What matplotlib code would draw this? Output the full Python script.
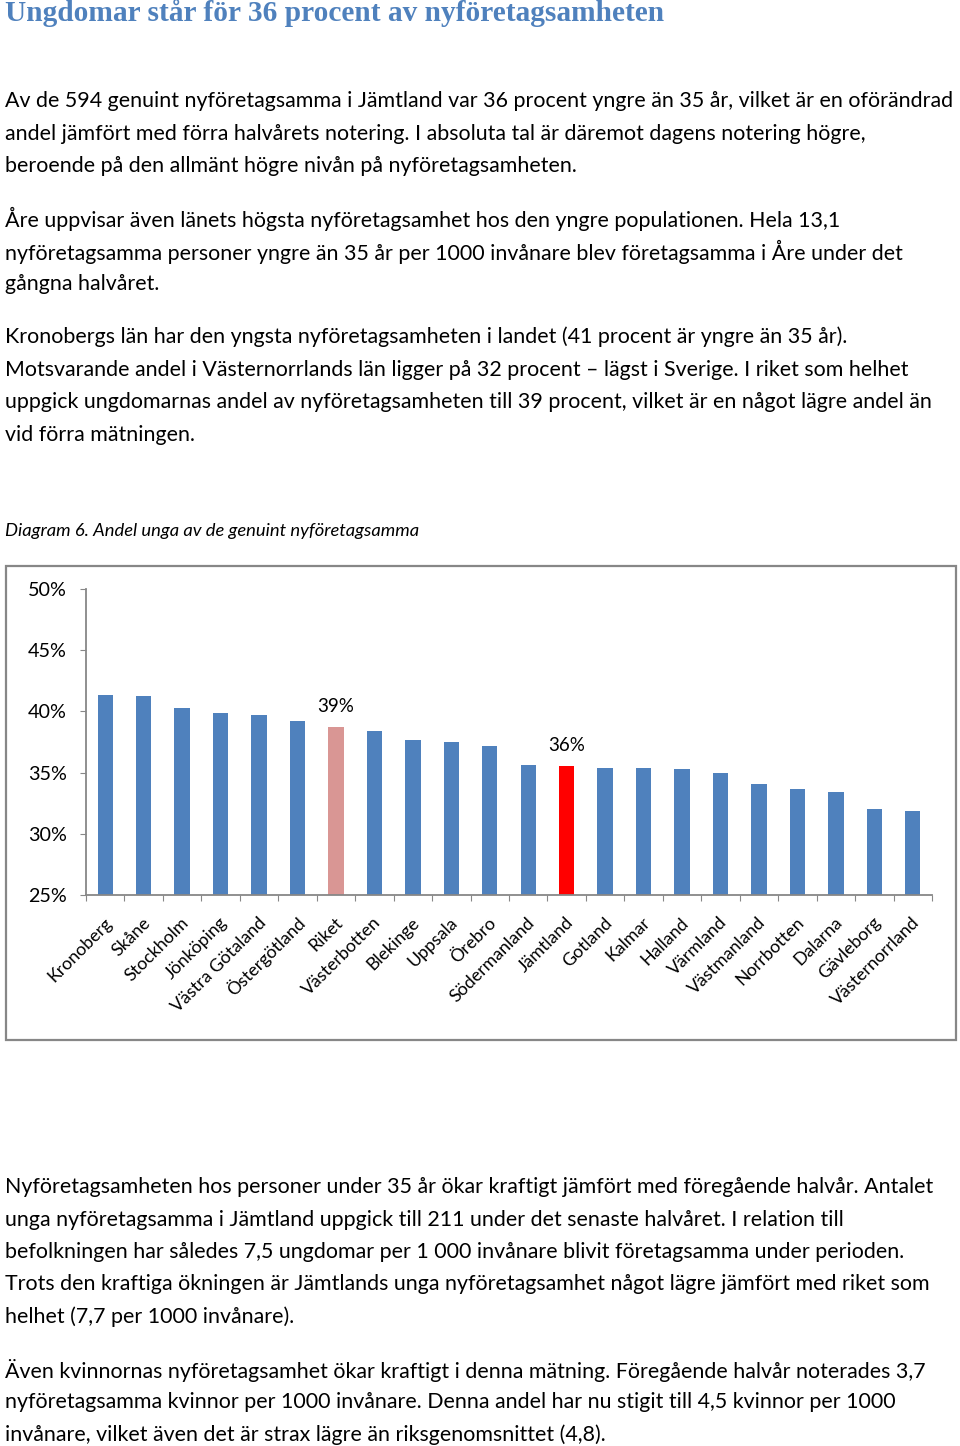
import matplotlib
matplotlib.use("Agg")
import matplotlib.pyplot as plt
from matplotlib.patches import Rectangle

W, H = 960, 1446

title = "Ungdomar står för 36 procent av nyföretagsamheten"

para1 = [
    "Av de 594 genuint nyföretagsamma i Jämtland var 36 procent yngre än 35 år, vilket är en oförändrad",
    "andel jämfört med förra halvårets notering. I absoluta tal är däremot dagens notering högre,",
    "beroende på den allmänt högre nivån på nyföretagsamheten.",
]
para2 = [
    "Åre uppvisar även länets högsta nyföretagsamhet hos den yngre populationen. Hela 13,1",
    "nyföretagsamma personer yngre än 35 år per 1000 invånare blev företagsamma i Åre under det",
    "gångna halvåret.",
]
para3 = [
    "Kronobergs län har den yngsta nyföretagsamheten i landet (41 procent är yngre än 35 år).",
    "Motsvarande andel i Västernorrlands län ligger på 32 procent – lägst i Sverige. I riket som helhet",
    "uppgick ungdomarnas andel av nyföretagsamheten till 39 procent, vilket är en något lägre andel än",
    "vid förra mätningen.",
]
caption = "Diagram 6. Andel unga av de genuint nyföretagsamma"
para4 = [
    "Nyföretagsamheten hos personer under 35 år ökar kraftigt jämfört med föregående halvår. Antalet",
    "unga nyföretagsamma i Jämtland uppgick till 211 under det senaste halvåret. I relation till",
    "befolkningen har således 7,5 ungdomar per 1 000 invånare blivit företagsamma under perioden.",
    "Trots den kraftiga ökningen är Jämtlands unga nyföretagsamhet något lägre jämfört med riket som",
    "helhet (7,7 per 1000 invånare).",
]
para5 = [
    "Även kvinnornas nyföretagsamhet ökar kraftigt i denna mätning. Föregående halvår noterades 3,7",
    "nyföretagsamma kvinnor per 1000 invånare. Denna andel har nu stigit till 4,5 kvinnor per 1000",
    "invånare, vilket även det är strax lägre än riksgenomsnittet (4,8).",
]

categories = ["Kronoberg", "Skåne", "Stockholm", "Jönköping", "Västra Götaland",
              "Östergötland", "Riket", "Västerbotten", "Blekinge", "Uppsala", "Örebro",
              "Södermanland", "Jämtland", "Gotland", "Kalmar", "Halland", "Värmland",
              "Västmanland", "Norrbotten", "Dalarna", "Gävleborg", "Västernorrland"]
values = [41.3, 41.25, 40.3, 39.9, 39.7, 39.2, 38.7, 38.4, 37.7, 37.5, 37.2,
          35.6, 35.5, 35.4, 35.4, 35.3, 35.0, 34.1, 33.7, 33.4, 32.0, 31.9]
labelled = {"Riket": "39%", "Jämtland": "36%"}
yticks = [25, 30, 35, 40, 45, 50]

BLUE = "#4F81BD"
colors = []
for c in categories:
    if c == "Riket":
        colors.append("#D99694")
    elif c == "Jämtland":
        colors.append("#FF0000")
    else:
        colors.append(BLUE)

fig = plt.figure(figsize=(W / 100, H / 100), dpi=100)

BODY = "Lato"
BODY_FS = 15.4


def ptext(x, y, s, **kw):
    fig.text(x / W, 1 - y / H, s, va="center", ha="left", **kw)


ptext(5, 13, title, fontsize=21.2, fontweight="bold", family="Liberation Serif", color="#4F81BD")

def para(lines, y0, step=32.5):
    for i, l in enumerate(lines):
        ptext(5, y0 + i * step, l, fontsize=BODY_FS, family=BODY, color="black")

para(para1, 101)
para(para2, 219)
para(para3, 337)
ptext(5, 531, caption, fontsize=13.2, family=BODY, style="italic", color="black")
para(para4, 1187)
para(para5, 1370)

# chart border
fig.patches.append(Rectangle((6 / W, 1 - 1040 / H), 950 / W, 474 / H, transform=fig.transFigure,
                             fill=False, edgecolor="#878787", linewidth=1.6))

ax = fig.add_axes([86 / W, 1 - 895 / H, (932 - 86) / W, (895 - 589) / H])
n = len(categories)
x = list(range(n))
ax.bar(x, values, width=0.40, color=colors, zorder=2)
ax.set_ylim(25, 50)
ax.set_xlim(-0.5, n - 0.5)
ax.set_yticks(yticks)
ax.set_yticklabels([f"{t}%" for t in yticks], fontsize=14.2, family=BODY)
ax.tick_params(axis="y", length=4.5, color="#878787", pad=9.5)
ax.set_xticks([i - 0.5 for i in range(n + 1)])
ax.set_xticklabels([])
ax.tick_params(axis="x", length=4.5, color="#878787")
for s in ["top", "right"]:
    ax.spines[s].set_visible(False)
for s in ["left", "bottom"]:
    ax.spines[s].set_color("#878787")
    ax.spines[s].set_linewidth(1.3)
ax.patch.set_alpha(0)

for i, c in enumerate(categories):
    ax.annotate(c, xy=(i, 25), xytext=(3, -18), textcoords="offset points",
                rotation=45, rotation_mode="anchor", ha="right", va="center",
                fontsize=12.8, family=BODY, annotation_clip=False)
    if c in labelled:
        ax.annotate(labelled[c], xy=(i, values[i]), xytext=(0, 9), textcoords="offset points",
                    ha="center", va="bottom", fontsize=13.5, family=BODY)

fig.savefig("out.png", dpi=100)
